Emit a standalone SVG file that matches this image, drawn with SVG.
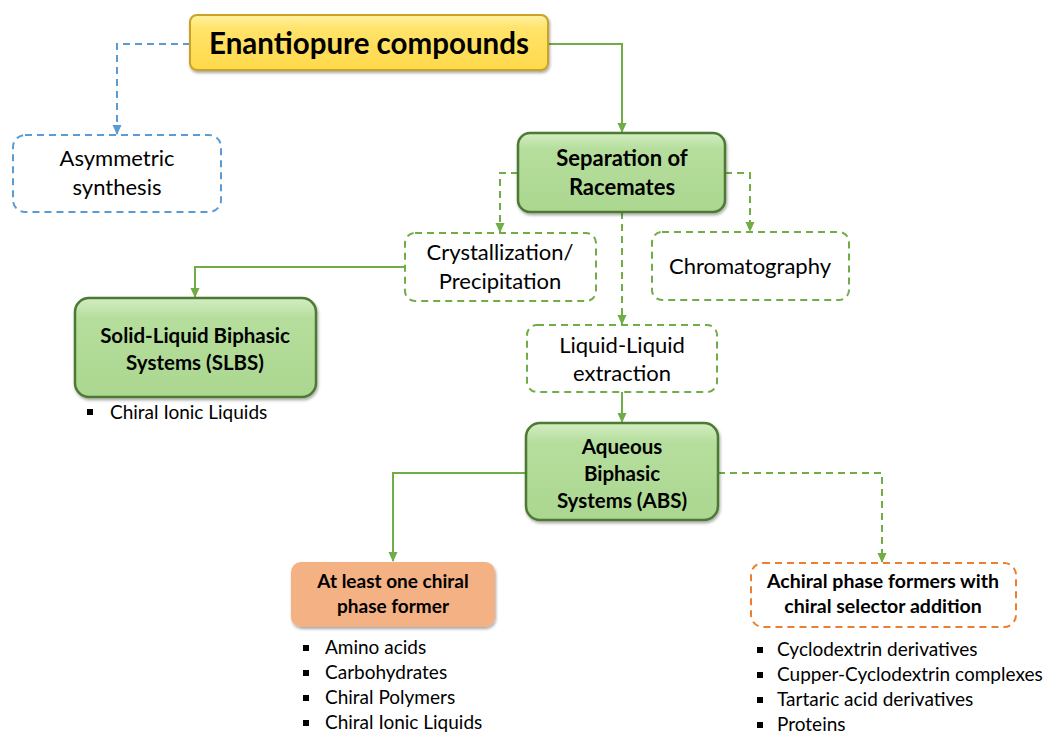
<svg xmlns="http://www.w3.org/2000/svg" width="1043" height="733" viewBox="0 0 1043 733">
<defs>
  <linearGradient id="gYellow" x1="0" y1="0" x2="0" y2="1">
    <stop offset="0" stop-color="#FFF1A0"/>
    <stop offset="0.25" stop-color="#FFE36A"/>
    <stop offset="1" stop-color="#FFD94A"/>
  </linearGradient>
  <linearGradient id="gGreen" x1="0" y1="0" x2="0" y2="1">
    <stop offset="0" stop-color="#D3EDC3"/>
    <stop offset="0.2" stop-color="#B5DE9C"/>
    <stop offset="1" stop-color="#ABD790"/>
  </linearGradient>
  <filter id="shadow" x="-10%" y="-10%" width="120%" height="130%">
    <feDropShadow dx="1" dy="2" stdDeviation="1.5" flood-color="#000" flood-opacity="0.35"/>
  </filter>
  <marker id="arrG" viewBox="0 0 10 10" refX="9" refY="5" markerWidth="10" markerHeight="10" orient="auto" markerUnits="userSpaceOnUse">
    <path d="M0,0.5 L10,5 L0,9.5 z" fill="#70AD47"/>
  </marker>
  <marker id="arrB" viewBox="0 0 10 10" refX="9" refY="5" markerWidth="10" markerHeight="10" orient="auto" markerUnits="userSpaceOnUse">
    <path d="M0,0.5 L10,5 L0,9.5 z" fill="#5B9BD5"/>
  </marker>
</defs>
<style>
  .t { font-family: Lato, "Liberation Sans", sans-serif; fill: #000; text-anchor: middle; }
  .reg { font-size: 22px; }
  .bold { font-weight: bold; }
  .li { font-family: Lato, "Liberation Sans", sans-serif; font-size: 19px; fill: #000; }
  .green { fill: url(#gGreen); stroke: #4E7A32; stroke-width: 2.5; filter: url(#shadow); }
  .dashG { fill: #fff; stroke: #70AD47; stroke-width: 2; stroke-dasharray: 7 5; }
  .dashB { fill: #fff; stroke: #5B9BD5; stroke-width: 2; stroke-dasharray: 7 5; }
  .dashO { fill: #fff; stroke: #ED7D31; stroke-width: 2; stroke-dasharray: 7 5; }
  .cG { fill: none; stroke: #70AD47; stroke-width: 2; }
  .cGd { fill: none; stroke: #70AD47; stroke-width: 2; stroke-dasharray: 7 5; }
  .cBd { fill: none; stroke: #5B9BD5; stroke-width: 2; stroke-dasharray: 7 5; }
  .bul { fill: #000; }
</style>

<g id="connectors">
  <path class="cBd" d="M190,44 H117 V134" marker-end="url(#arrB)"/>
  <path class="cG" d="M548,44 H622 V132" marker-end="url(#arrG)"/>
  <path class="cGd" d="M518,173 H500 V232" marker-end="url(#arrG)"/>
  <path class="cGd" d="M725,173 H750 V231" marker-end="url(#arrG)"/>
  <path class="cGd" d="M622,212 V324" marker-end="url(#arrG)"/>
  <path class="cG" d="M405,267 H195 V297" marker-end="url(#arrG)"/>
  <path class="cG" d="M622,392 V422" marker-end="url(#arrG)"/>
  <path class="cG" d="M526,473 H393 V561" marker-end="url(#arrG)"/>
  <path class="cGd" d="M718,473 H882 V562" marker-end="url(#arrG)"/>
</g>

<g id="n-enantiopure">
  <rect x="190" y="15" width="358" height="55" rx="7" fill="url(#gYellow)" stroke="#C9A227" stroke-width="2" filter="url(#shadow)"/>
  <text class="t bold" x="369" y="54" font-size="29.5">Enantiopure compounds</text>
</g>

<g id="n-asymmetric">
  <rect class="dashB" x="13" y="135" width="208" height="77" rx="12"/>
  <text class="t reg" x="117" y="166">Asymmetric</text>
  <text class="t reg" x="117" y="195">synthesis</text>
</g>

<g id="n-separation">
  <rect class="green" x="518" y="133" width="207" height="79" rx="12"/>
  <text class="t bold" x="622" y="166" font-size="22">Separation of</text>
  <text class="t bold" x="622" y="195" font-size="22">Racemates</text>
</g>

<g id="n-crystallization">
  <rect class="dashG" x="405" y="233" width="191" height="68" rx="10"/>
  <text class="t reg" x="500" y="260">Crystallization/</text>
  <text class="t reg" x="500" y="289">Precipitation</text>
</g>

<g id="n-chromatography">
  <rect class="dashG" x="652" y="232" width="197" height="68" rx="10"/>
  <text class="t reg" x="750" y="274">Chromatography</text>
</g>

<g id="n-lle">
  <rect class="dashG" x="527" y="325" width="190" height="67" rx="10"/>
  <text class="t reg" x="622" y="353">Liquid-Liquid</text>
  <text class="t reg" x="622" y="381">extraction</text>
</g>

<g id="n-slbs">
  <rect class="green" x="75" y="298" width="241" height="99" rx="14"/>
  <text class="t bold" x="195" y="343" font-size="20.5">Solid-Liquid Biphasic</text>
  <text class="t bold" x="195" y="370" font-size="20.5">Systems (SLBS)</text>
  <rect class="bul" x="87" y="409" width="6" height="6"/>
  <text class="li" x="110" y="419">Chiral Ionic Liquids</text>
</g>

<g id="n-abs">
  <rect class="green" x="526" y="423" width="192" height="97" rx="14"/>
  <text class="t bold" x="622" y="454" font-size="20.5">Aqueous</text>
  <text class="t bold" x="622" y="481" font-size="20.5">Biphasic</text>
  <text class="t bold" x="622" y="508" font-size="20.5">Systems (ABS)</text>
</g>

<g id="n-chiral">
  <rect x="291" y="562" width="204" height="65" rx="10" fill="#F4B183" filter="url(#shadow)"/>
  <text class="t bold" x="393" y="588" font-size="19">At least one chiral</text>
  <text class="t bold" x="393" y="613" font-size="19">phase former</text>
  <rect class="bul" x="303" y="645" width="6" height="6"/>
  <text class="li" x="325" y="654">Amino acids</text>
  <rect class="bul" x="303" y="670" width="6" height="6"/>
  <text class="li" x="325" y="679">Carbohydrates</text>
  <rect class="bul" x="303" y="695" width="6" height="6"/>
  <text class="li" x="325" y="704">Chiral Polymers</text>
  <rect class="bul" x="303" y="720" width="6" height="6"/>
  <text class="li" x="325" y="729">Chiral Ionic Liquids</text>
</g>

<g id="n-achiral">
  <rect class="dashO" x="751" y="563" width="265" height="64" rx="12"/>
  <text class="t bold" x="883" y="588" font-size="19.5">Achiral phase formers with</text>
  <text class="t bold" x="883" y="613" font-size="19.5">chiral selector addition</text>
  <rect class="bul" x="757" y="647" width="6" height="6"/>
  <text class="li" x="777" y="656">Cyclodextrin derivatives</text>
  <rect class="bul" x="757" y="672" width="6" height="6"/>
  <text class="li" x="777" y="681">Cupper-Cyclodextrin complexes</text>
  <rect class="bul" x="757" y="697" width="6" height="6"/>
  <text class="li" x="777" y="706">Tartaric acid derivatives</text>
  <rect class="bul" x="757" y="722" width="6" height="6"/>
  <text class="li" x="777" y="731">Proteins</text>
</g>
</svg>
